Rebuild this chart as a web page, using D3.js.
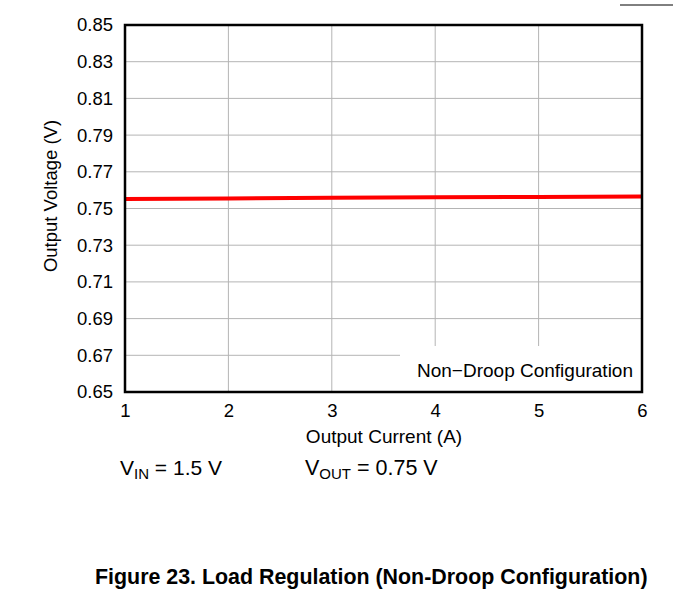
<!DOCTYPE html>
<html><head><meta charset="utf-8">
<script src="https://cdn.jsdelivr.net/npm/d3@7"></script>
<style>body{margin:0;background:#fff;} svg{display:block;font-family:"Liberation Sans",Arial,sans-serif;}</style>
</head><body>
<svg id="c" width="673" height="600"></svg>
<script>
const current = [1, 2, 3, 4, 5, 6];
const voltage = [0.7552, 0.7555, 0.7558, 0.7561, 0.7563, 0.7565];
const xTicks = [1, 2, 3, 4, 5, 6];
const yTicks = [0.65, 0.67, 0.69, 0.71, 0.73, 0.75, 0.77, 0.79, 0.81, 0.83, 0.85];
const legendText = "Non\u2212Droop Configuration";
const titleText = "Figure 23. Load Regulation (Non-Droop Configuration)";

const FONT = "Liberation Sans, Arial, sans-serif";
const svg = d3.select("#c");
const L = 125, R = 642, T = 25, B = 392;
const x = d3.scaleLinear().domain([1, 6]).range([L, R]);
const y = d3.scaleLinear().domain([0.65, 0.85]).range([B, T]);

// top-right stray line
svg.append("line").attr("x1", 620).attr("x2", 673).attr("y1", 5).attr("y2", 5)
  .attr("stroke", "#000").attr("stroke-width", 1);

// grid
const g = svg.append("g");
g.selectAll(".vg").data(xTicks.slice(1, -1)).join("line")
  .attr("x1", d => x(d)).attr("x2", d => x(d)).attr("y1", T).attr("y2", B)
  .attr("stroke", "#b4b4b4").attr("stroke-width", 1);
g.selectAll(".hg").data(yTicks.slice(1, -1)).join("line")
  .attr("x1", L).attr("x2", R).attr("y1", d => y(d)).attr("y2", d => y(d))
  .attr("stroke", "#b4b4b4").attr("stroke-width", 1);

// data line
const line = d3.line().x((d, i) => x(current[i])).y(d => y(d));
svg.append("path").datum(voltage).attr("d", line)
  .attr("fill", "none").attr("stroke", "#ff0000").attr("stroke-width", 4);

// legend box
svg.append("rect").attr("x", 400).attr("y", 346).attr("width", R - 400).attr("height", B - 346)
  .attr("fill", "#fff");
svg.append("text").attr("x", 633).attr("y", 377).attr("text-anchor", "end")
  .attr("font-size", 19).text(legendText);

// frame
svg.append("rect").attr("x", L).attr("y", T).attr("width", R - L).attr("height", B - T)
  .attr("fill", "none").attr("stroke", "#000").attr("stroke-width", 2.5);

// axes
const xAxis = d3.axisBottom(x).tickValues(xTicks).tickSize(0).tickPadding(12).tickFormat(d3.format("d"));
const gx = svg.append("g").attr("transform", `translate(0,${B})`).call(xAxis);
gx.select(".domain").remove();
gx.attr("font-size", 18.5).attr("font-family", FONT);
gx.selectAll("text").attr("fill", "#000");

const yAxis = d3.axisLeft(y).tickValues(yTicks).tickSize(0).tickPadding(12).tickFormat(d3.format(".2f"));
const gy = svg.append("g").attr("transform", `translate(${L},0)`).call(yAxis);
gy.select(".domain").remove();
gy.attr("font-size", 18.5).attr("font-family", FONT);
gy.selectAll("text").attr("fill", "#000");

// axis titles
svg.append("text").attr("x", 384).attr("y", 443).attr("text-anchor", "middle")
  .attr("font-size", 19).text("Output Current (A)");
svg.append("text").attr("transform", "translate(57,196) rotate(-90)").attr("text-anchor", "middle")
  .attr("font-size", 18.5).text("Output Voltage (V)");

// conditions
const c1 = svg.append("text").attr("x", 120).attr("y", 475).attr("font-size", 21);
c1.append("tspan").text("V");
c1.append("tspan").attr("font-size", 15).attr("dy", 4).text("IN");
c1.append("tspan").attr("dy", -4).text(" = 1.5 V");
const c2 = svg.append("text").attr("x", 305).attr("y", 475).attr("font-size", 21.5);
c2.append("tspan").text("V");
c2.append("tspan").attr("font-size", 15).attr("dy", 4).text("OUT");
c2.append("tspan").attr("dy", -4).text(" = 0.75 V");

// caption
svg.append("text").attr("x", 95).attr("y", 584).attr("font-size", 21.4).attr("font-weight", "bold")
  .text(titleText);
</script>
</body></html>
